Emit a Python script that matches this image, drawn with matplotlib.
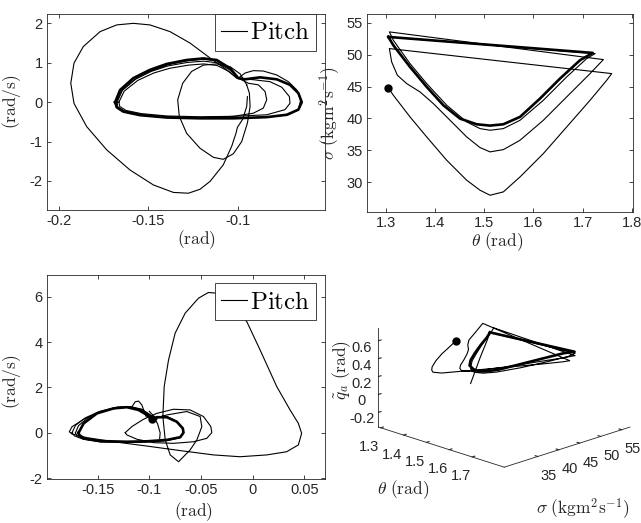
import numpy as np
import matplotlib
matplotlib.use('Agg')
import matplotlib.pyplot as plt
from mpl_toolkits.mplot3d import Axes3D  # noqa

plt.rcParams['font.family'] = ['Liberation Sans', 'DejaVu Sans']
plt.rcParams['mathtext.fontset'] = 'cm'
plt.rcParams['axes.unicode_minus'] = False

# ---------------- top-left phase portrait (pitch) ----------------
tl_big_x = [-0.0946, -0.0950, -0.0972, -0.1002, -0.1010, -0.1034, -0.1081, -0.1155, -0.1211, -0.1276,
            -0.1360, -0.1472, -0.1603, -0.1733, -0.1845, -0.1916, -0.1934, -0.1916, -0.1864, -0.1770,
            -0.1677, -0.1584, -0.1491, -0.1379, -0.1267, -0.1155, -0.1062, -0.1006]
tl_big_y = [0.14, -0.11, -0.43, -0.64, -0.79, -1.12, -1.59, -2.01, -2.21, -2.31,
            -2.29, -2.10, -1.72, -1.21, -0.62, -0.03, 0.48, 0.99, 1.41, 1.79,
            1.96, 2.00, 1.96, 1.79, 1.50, 1.12, 0.82, 0.61]
tl_in_x = [-0.0950, -0.0987, -0.1043, -0.1118, -0.1192, -0.1258, -0.1308, -0.1336, -0.1327, -0.1286,
           -0.1211, -0.1136, -0.1081, -0.1025, -0.0978, -0.0946, -0.0931, -0.0935, -0.0950]
tl_in_y = [0.44, 0.72, 0.90, 0.97, 0.94, 0.78, 0.48, 0.06, -0.36, -0.79,
           -1.17, -1.40, -1.45, -1.31, -1.00, -0.53, -0.11, 0.23, 0.44]
tl_main_x = [-0.1686, -0.1658, -0.1584, -0.1491, -0.1397, -0.1286, -0.1192, -0.1118, -0.1043, -0.0997,
             -0.0959, -0.0875, -0.0782, -0.0708, -0.0661, -0.0642, -0.0661, -0.0726, -0.0838, -0.1025,
             -0.1211, -0.1397, -0.1547, -0.1640, -0.1677, -0.1686]
tl_main_y = [0.00, 0.31, 0.61, 0.82, 0.97, 1.07, 1.11, 1.07, 0.86, 0.61,
             0.58, 0.63, 0.58, 0.44, 0.23, 0.00, -0.19, -0.32, -0.38, -0.41,
             -0.41, -0.39, -0.33, -0.24, -0.13, 0.00]
tl_v2_x = [-0.1680, -0.1650, -0.1575, -0.1485, -0.1390, -0.1280, -0.1190, -0.1115, -0.1045, -0.0997,
           -0.0959, -0.0913, -0.0857, -0.0782, -0.0717, -0.0670, -0.0648, -0.0661, -0.0717, -0.0838,
           -0.1025, -0.1211, -0.1397, -0.1545, -0.1636, -0.1673, -0.1680]
tl_v2_y = [0.00, 0.30, 0.58, 0.78, 0.92, 1.01, 1.04, 1.00, 0.82, 0.61,
           0.74, 0.80, 0.79, 0.69, 0.52, 0.31, 0.06, -0.19, -0.32, -0.38,
           -0.40, -0.40, -0.37, -0.31, -0.22, -0.12, 0.00]
tl_v3_x = [-0.1665, -0.1635, -0.1560, -0.1470, -0.1380, -0.1275, -0.1190, -0.1115, -0.1050, -0.1000,
           -0.0913, -0.0820, -0.0754, -0.0711, -0.0708, -0.0736, -0.0838, -0.1025, -0.1211, -0.1397,
           -0.1540, -0.1625, -0.1660, -0.1665]
tl_v3_y = [0.00, 0.28, 0.55, 0.74, 0.86, 0.94, 0.97, 0.93, 0.78, 0.60,
           0.57, 0.52, 0.38, 0.14, -0.03, -0.19, -0.32, -0.36, -0.37, -0.35,
           -0.29, -0.21, -0.11, 0.00]
tl_v4_x = [-0.1675, -0.1645, -0.1570, -0.1480, -0.1390, -0.1283, -0.1192, -0.1117, -0.1045, -0.0997,
           -0.0941, -0.0885, -0.0847, -0.0838, -0.0857, -0.0913, -0.1025, -0.1211, -0.1397, -0.1545,
           -0.1638, -0.1672, -0.1675]
tl_v4_y = [0.00, 0.30, 0.59, 0.80, 0.95, 1.05, 1.09, 1.05, 0.85, 0.61,
           0.48, 0.44, 0.27, 0.06, -0.15, -0.28, -0.36, -0.39, -0.38, -0.32,
           -0.23, -0.12, 0.00]
tl_xticks = [-0.2, -0.15, -0.1]
tl_xticklabels = ['-0.2', '-0.15', '-0.1']
tl_yticks = [-2, -1, 0, 1, 2]

# ---------------- top-right: theta vs sigma ----------------
tr_t = [1.3047, 1.3149, 1.3488, 1.3828, 1.4235, 1.4642, 1.4913, 1.5117, 1.5388, 1.5727,
        1.6202, 1.6677, 1.7152, 1.7491, 1.7593,
        1.3068, 1.3115, 1.3231, 1.3421, 1.3692, 1.3963, 1.4303, 1.4642, 1.4913, 1.5117,
        1.5388, 1.5727, 1.6202, 1.6677, 1.7152, 1.7423,
        1.3068, 1.3149, 1.3488, 1.3828, 1.4235, 1.4642, 1.4913, 1.5117, 1.5388, 1.5727,
        1.6202, 1.6677, 1.7084, 1.7254]
tr_s = [44.79, 43.64, 40.24, 37.09, 33.43, 30.29, 28.72, 27.93, 28.46, 30.81,
        34.48, 38.66, 42.85, 45.99, 47.04,
        50.97, 48.87, 46.78, 45.47, 44.16, 42.33, 39.71, 37.09, 35.42, 34.74,
        35.10, 36.57, 39.71, 43.38, 47.04, 49.24,
        53.59, 52.28, 48.61, 45.47, 42.07, 39.45, 38.40, 38.14, 38.40, 39.71,
        42.85, 46.52, 49.40, 50.18]
tr_q = [0.34, 0.35, 0.36, 0.38, 0.39, 0.40, 0.41, 0.415, 0.42, 0.43,
        0.44, 0.445, 0.45, 0.455, 0.46,
        0.45, 0.38, 0.34, 0.32, 0.31, 0.31, 0.31, 0.32, 0.33, 0.33,
        0.34, 0.36, 0.39, 0.42, 0.45, 0.47,
        0.36, 0.32, 0.29, 0.27, 0.26, 0.25, 0.25, 0.26, 0.27, 0.29,
        0.33, 0.38, 0.43, 0.47]
main_t = [1.3047, 1.3149, 1.3488, 1.3828, 1.4167, 1.4506, 1.4845, 1.5117, 1.5388, 1.5727,
          1.6134, 1.6541, 1.6948, 1.7206, 1.3047]
main_s = [52.80, 51.49, 48.09, 44.95, 42.07, 39.97, 39.08, 38.87, 39.08, 40.24,
          43.12, 46.26, 49.14, 50.29, 52.80]
main_q = [0.32, 0.29, 0.28, 0.27, 0.26, 0.26, 0.26, 0.26, 0.28, 0.31,
          0.36, 0.41, 0.46, 0.48, 0.32]
end_t = [1.3047, 1.3149, 1.3488, 1.3828, 1.4167]
end_s = [52.80, 51.49, 48.09, 44.95, 42.07]
end_q = [0.32, 0.25, 0.15, 0.06, 0.00]
tr_xticks = [1.3, 1.4, 1.5, 1.6, 1.7, 1.8]
tr_xticklabels = ['1.3', '1.4', '1.5', '1.6', '1.7', '1.8']
tr_yticks = [30, 35, 40, 45, 50, 55]

# ---------------- bottom-left phase portrait (pitch) ----------------
bl_big_x = [-0.0975, -0.0830, -0.0637, -0.0508, -0.0492, -0.0540, -0.0605, -0.0717, -0.0798, -0.0846,
            -0.0869, -0.0856, -0.0814, -0.0750, -0.0653, -0.0524, -0.0428, -0.0347, -0.0250, -0.0057,
            0.0072, 0.0233, 0.0362, 0.0442, 0.0474, 0.0442, 0.0329, 0.0136, -0.0122, -0.0379,
            -0.0701, -0.1023, -0.1345, -0.1603, -0.1748, -0.1774, -0.1748, -0.1635, -0.1474, -0.1313,
            -0.1184, -0.1072, -0.0991, -0.0927]
bl_big_y = [0.60, 0.79, 0.94, 0.72, 0.27, -0.31, -0.75, -1.27, -0.97, -0.31,
            0.72, 2.04, 3.21, 4.39, 5.27, 5.93, 6.18, 6.15, 5.78, 4.90,
            3.65, 2.04, 1.01, 0.42, -0.02, -0.53, -0.83, -0.97, -1.05, -0.97,
            -0.78, -0.58, -0.39, -0.21, -0.05, 0.05, 0.27, 0.60, 0.93, 1.13,
            1.16, 1.04, 0.79, 0.60]
bl_m_x = [-0.1233, -0.1168, -0.1056, -0.0927, -0.0766, -0.0605, -0.0476, -0.0405, -0.0395, -0.0444,
          -0.0572, -0.0766, -0.0959, -0.1120, -0.1217, -0.1233]
bl_m_y = [0.01, 0.28, 0.60, 0.86, 1.04, 1.01, 0.72, 0.28, 0.01, -0.24,
          -0.39, -0.46, -0.43, -0.28, -0.09, 0.01]
bl_l2_x = [-0.1748, -0.1715, -0.1620, -0.1480, -0.1320, -0.1190, -0.1075, -0.0995, -0.0950, -0.0900,
           -0.0830, -0.0740, -0.0680, -0.0672, -0.0700, -0.0830, -0.1023, -0.1217, -0.1474, -0.1640,
           -0.1725, -0.1748]
bl_l2_y = [0.00, 0.33, 0.66, 0.95, 1.12, 1.15, 1.03, 0.80, 0.62, 0.70,
           0.72, 0.52, 0.22, 0.00, -0.21, -0.34, -0.40, -0.42, -0.40, -0.28,
           -0.13, 0.00]
bl_l3_x = [-0.1715, -0.1685, -0.1595, -0.1460, -0.1310, -0.1195, -0.1085, -0.1005, -0.0960, -0.0900,
           -0.0830, -0.0738, -0.0678, -0.0670, -0.0702, -0.0830, -0.1023, -0.1217, -0.1474, -0.1630,
           -0.1700, -0.1715]
bl_l3_y = [0.00, 0.32, 0.66, 0.94, 1.10, 1.13, 1.02, 0.80, 0.64, 0.68,
           0.70, 0.50, 0.20, 0.00, -0.20, -0.33, -0.39, -0.41, -0.38, -0.27,
           -0.12, 0.00]
bl_c_x = [-0.1684, -0.1635, -0.1506, -0.1345, -0.1217, -0.1104, -0.1023, -0.0975, -0.0927, -0.0830,
          -0.0734, -0.0676, -0.0669, -0.0701, -0.0830, -0.1023, -0.1217, -0.1474, -0.1635, -0.1678,
          -0.1684]
bl_c_y = [0.01, 0.42, 0.86, 1.08, 1.13, 1.01, 0.79, 0.60, 0.69, 0.69,
          0.49, 0.20, 0.01, -0.19, -0.31, -0.37, -0.39, -0.36, -0.24, -0.09,
          0.01]
bl_bump_x = [-0.1168, -0.1136, -0.1104, -0.1072, -0.1049, -0.1030]
bl_bump_y = [1.15, 1.37, 1.40, 1.23, 0.94, 0.71]
bl_seg_x = [-0.1000, -0.0960, -0.0920, -0.0895, -0.0900]
bl_seg_y = [0.95, 0.75, 0.40, 0.00, -0.25]
bl_xticks = [-0.15, -0.1, -0.05, 0, 0.05]
bl_xticklabels = ['-0.15', '-0.1', '-0.05', '0', '0.05']
bl_yticks = [-2, 0, 2, 4, 6]

# ---------------- 3-D panel ticks ----------------
d3_xticks = [1.3, 1.4, 1.5, 1.6, 1.7]
d3_yticks = [35, 40, 45, 50, 55]
d3_zticks = [-0.2, 0, 0.2, 0.4, 0.6]
d3_zticklabels = ['-0.2', '0', '0.2', '0.4', '0.6']

# =================================================================
W, H = 641, 523
fig = plt.figure(figsize=(W / 100, H / 100), dpi=100)
AX = '#262626'
THIN = 0.8
THICK = 1.9


def rect(l, t, r, b):
    return [l / W, 1 - b / H, (r - l) / W, (b - t) / H]


def style(ax):
    for s in ax.spines.values():
        s.set_color(AX)
        s.set_linewidth(0.6)
    ax.tick_params(direction='in', length=3, width=0.6, colors=AX, labelsize=10.5,
                   top=True, right=True, labelcolor=AX, pad=3)


def legend(ax, line, y):
    lg = ax.legend([line], [r'$\mathrm{Pitch}$'], loc='upper right', bbox_to_anchor=(0.9676, y),
                   borderaxespad=0, fontsize=18, handlelength=1.05, handletextpad=0.1,
                   borderpad=0.25, fancybox=False, framealpha=1, edgecolor=AX)
    lg.get_frame().set_linewidth(0.6)


# ---- top-left
ax1 = fig.add_axes(rect(47, 14, 325, 210))
style(ax1)
ln, = ax1.plot(tl_big_x, tl_big_y, color='k', lw=THIN)
ax1.plot(tl_in_x, tl_in_y, color='k', lw=THIN)
ax1.plot(tl_v2_x, tl_v2_y, color='k', lw=THIN)
ax1.plot(tl_v3_x, tl_v3_y, color='k', lw=THIN)
ax1.plot(tl_v4_x, tl_v4_y, color='k', lw=THIN)
ax1.plot(tl_main_x, tl_main_y, color='k', lw=THICK)
ax1.set_xlim(-0.2067, -0.0512)
ax1.set_ylim(-2.736, 2.237)
ax1.set_xticks(tl_xticks)
ax1.set_xticklabels(tl_xticklabels)
ax1.set_yticks(tl_yticks)
ax1.set_xlabel(r'$\mathrm{(rad)}$', fontsize=12.5, color=AX)
ax1.set_ylabel(r'$\mathrm{(rad/s)}$', fontsize=12.5, color=AX)
ax1.xaxis.set_label_coords(0.536, -0.095)
ax1.yaxis.set_label_coords(-0.085, 0.551)
legend(ax1, ln, 1.0)

# ---- top-right
ax2 = fig.add_axes(rect(367, 14, 633, 212))
style(ax2)
ax2.plot(tr_t + [main_t[0]], tr_s + [main_s[0]], color='k', lw=THIN)
ax2.plot(main_t, main_s, color='k', lw=THICK)
ax2.plot(end_t, end_s, color='k', lw=THIN)
ax2.plot([tr_t[0]], [tr_s[0]], 'o', color='k', ms=5)
ax2.set_xlim(1.2613, 1.8026)
ax2.set_ylim(25.3, 56.4)
ax2.set_xticks(tr_xticks)
ax2.set_xticklabels(tr_xticklabels)
ax2.set_yticks(tr_yticks)
ax2.set_xlabel(r'$\theta\ \mathrm{(rad)}$', fontsize=12.5, color=AX)
ax2.set_ylabel(r'$\sigma\ \mathrm{(kgm^{2}s^{-1})}$', fontsize=12.5, color=AX)
ax2.xaxis.set_label_coords(0.49, -0.09)
ax2.yaxis.set_label_coords(-0.09, 0.5)

# ---- bottom-left
ax3 = fig.add_axes(rect(47, 275, 325, 479))
style(ax3)
ln3, = ax3.plot(bl_big_x, bl_big_y, color='k', lw=THIN)
ax3.plot(bl_m_x, bl_m_y, color='k', lw=THIN)
ax3.plot(bl_l2_x, bl_l2_y, color='k', lw=THIN)
ax3.plot(bl_l3_x, bl_l3_y, color='k', lw=THIN)
ax3.plot(bl_bump_x, bl_bump_y, color='k', lw=THIN)
ax3.plot(bl_seg_x, bl_seg_y, color='k', lw=THIN)
ax3.plot(bl_c_x, bl_c_y, color='k', lw=THICK)
ax3.plot([bl_big_x[0]], [bl_big_y[0]], 'o', color='k', ms=5)
ax3.set_xlim(-0.199, 0.070)
ax3.set_ylim(-2.03, 6.95)
ax3.set_xticks(bl_xticks)
ax3.set_xticklabels(bl_xticklabels)
ax3.set_yticks(bl_yticks)
ax3.set_xlabel(r'$\mathrm{(rad)}$', fontsize=12.5, color=AX)
ax3.set_ylabel(r'$\mathrm{(rad/s)}$', fontsize=12.5, color=AX)
ax3.xaxis.set_label_coords(0.527, -0.105)
ax3.yaxis.set_label_coords(-0.085, 0.478)
legend(ax3, ln3, 0.959)

# ---- bottom-right 3-D
ax4 = fig.add_axes(rect(341, 262, 661, 500), projection='3d')
ax4.set_proj_type('ortho')
ax4.view_init(elev=18.6, azim=-45)
ax4.set_box_aspect((1, 1, 0.585), zoom=1.11)
ax4.set_facecolor('none')
ax4.plot(tr_t + [main_t[0]], tr_s + [main_s[0]], tr_q + [main_q[0]], color='k', lw=THIN)
ax4.plot(main_t, main_s, main_q, color='k', lw=THICK)
ax4.plot(end_t, end_s, end_q, color='k', lw=THIN)
ax4.plot([tr_t[0]], [tr_s[0]], [tr_q[0]], 'o', color='k', ms=5)
ax4.set_xlim(1.29, 1.84)
ax4.set_ylim(27, 57)
ax4.set_zlim(-0.365, 0.737)
ax4.set_xticks(d3_xticks)
ax4.set_yticks(d3_yticks)
ax4.set_zticks(d3_zticks)
ax4.set_zticklabels(d3_zticklabels)
ax4.zaxis.set_ticks_position('lower')
ax4.zaxis.set_label_position('lower')
ax4.grid(False)
for a in (ax4.xaxis, ax4.yaxis, ax4.zaxis):
    a.set_pane_color((1, 1, 1, 0))
    a.pane.set_edgecolor((1, 1, 1, 0))
    a.line.set_color(AX)
    a.line.set_linewidth(0.6)
    a._axinfo['tick']['inward_factor'] = 0.0
    a._axinfo['tick']['outward_factor'] = 0.25
    a._axinfo['tick']['color'] = AX
ax4.tick_params(labelsize=10.5, colors=AX, pad=0)
ax4.zaxis.set_tick_params(pad=-2)
fig.text(403 / W, 1 - 490 / H, r'$\theta\ \mathrm{(rad)}$', fontsize=12.5, color=AX,
         ha='center', va='center')
fig.text(583 / W, 1 - 509 / H, r'$\sigma\ \mathrm{(kgm^{2}s^{-1})}$', fontsize=12.5, color=AX,
         ha='center', va='center')
fig.text(342 / W, 1 - 370 / H, r'$\tilde{q}_a\ \mathrm{(rad)}$', fontsize=12.5, color=AX,
         ha='center', va='center', rotation=90)

fig.savefig('out.png', dpi=100)
